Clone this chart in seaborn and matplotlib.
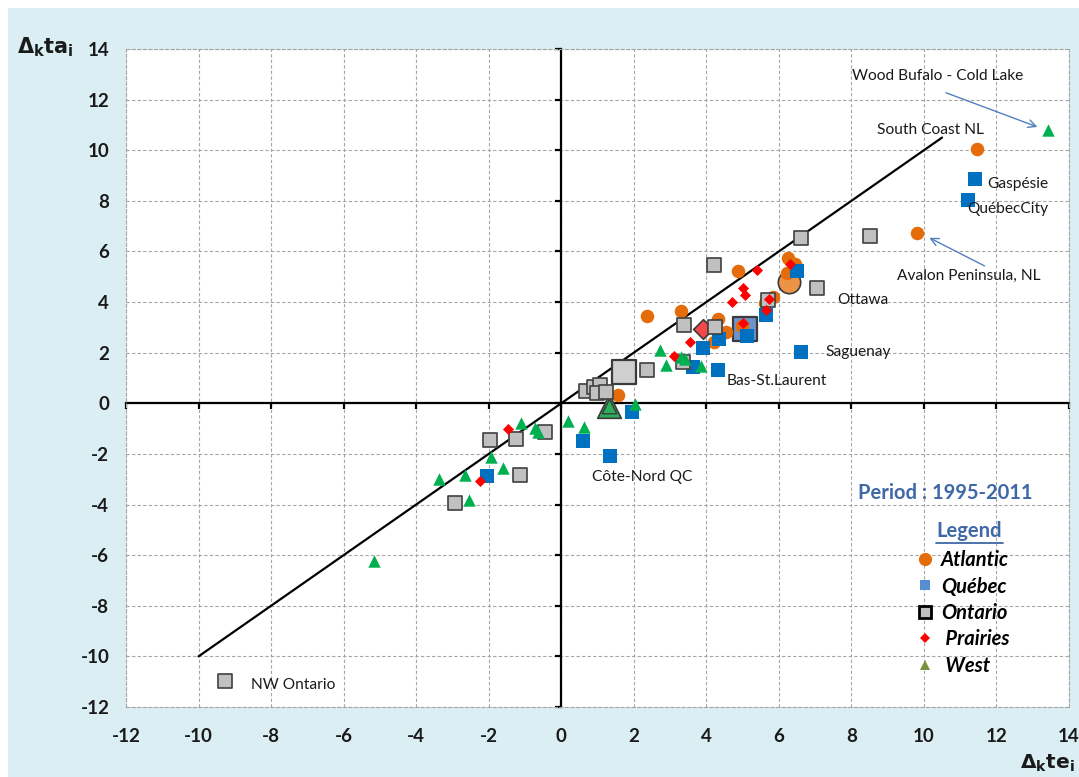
import matplotlib
matplotlib.use("Agg")
import matplotlib.pyplot as plt
from matplotlib.patches import Rectangle
from matplotlib.lines import Line2D
import seaborn as sns

# ---- data: change in employment (x) vs change in activity (y), by region ----
atl_x = [11.47, 9.82, 6.26, 6.44, 6.22, 5.85, 5.62, 4.88, 2.36, 3.30, 4.33, 4.55, 4.22, 4.98, 1.56]
atl_y = [10.05, 6.73, 5.74, 5.51, 5.15, 4.22, 3.97, 5.21, 3.45, 3.63, 3.32, 2.81, 2.42, 3.05, 0.33]
atl_avg = [6.29, 4.81]

que_x = [11.42, 11.21, 6.61, 6.49, 5.64, 5.13, 4.35, 3.92, 3.62, 4.32, 1.95, 0.59, 1.34, -2.05]
que_y = [8.86, 8.04, 2.02, 5.21, 3.47, 2.64, 2.53, 2.20, 1.42, 1.32, -0.33, -1.49, -2.08, -2.87]
que_avg = [5.07, 2.94]

ont_x = [-9.26, 6.61, 8.50, 7.06, 4.20, 5.71, 4.24, 3.39, 2.36, 3.35, 0.67, 0.90, 1.08, 0.99, 1.24,
         -0.45, -1.26, -1.96, -1.14, -2.93]
ont_y = [-10.99, 6.53, 6.62, 4.55, 5.47, 4.09, 3.01, 3.10, 1.32, 1.65, 0.50, 0.63, 0.72, 0.40, 0.46,
         -1.15, -1.42, -1.45, -2.84, -3.93]
ont_avg = [1.72, 1.25]

pra_x = [5.39, 6.30, 5.02, 5.07, 4.70, 5.73, 5.64, 5.02, 3.54, 3.10, -1.47, -2.24]
pra_y = [5.25, 5.51, 4.55, 4.29, 4.00, 4.11, 3.69, 3.19, 2.41, 1.85, -1.03, -3.06]
pra_avg = [3.92, 2.93]

wst_x = [13.43, 2.71, 2.90, 3.30, 3.42, 3.85, 2.04, 0.18, 0.62, -1.12, -0.73, -0.64, -1.94, -1.60,
         -2.65, -3.38, -2.54, -5.15]
wst_y = [10.78, 2.11, 1.52, 1.82, 1.74, 1.48, -0.03, -0.69, -0.92, -0.79, -0.96, -1.15, -2.11, -2.57,
         -2.84, -3.00, -3.83, -6.24]
wst_avg = [1.31, -0.10]

diag = [-10.0, 10.5]

ticks = list(range(-12, 15, 2))

# point labels: (text, x, y)
point_labels = [
    ("Wood Bufalo - Cold Lake", 8.02, 12.95),
    ("South Coast NL", 8.70, 10.81),
    ("Gaspésie", 11.75, 8.68),
    ("QuébecCity", 11.20, 7.69),
    ("Avalon Peninsula, NL", 9.25, 5.03),
    ("Ottawa", 7.62, 4.09),
    ("Saguenay", 7.29, 2.03),
    ("Bas-St.Laurent", 4.57, 0.88),
    ("Côte-Nord QC", 0.86, -2.91),
    ("NW Ontario", -8.54, -11.15),
]
# arrows: (tail x, tail y, head x, head y)
arrows = [
    (10.61, 12.27, 13.13, 10.92),
    (11.67, 5.43, 10.15, 6.54),
]

legend_names = ["Atlantic", "Québec", "Ontario", " Prairies", " West"]

# ---- styling ----
sns.set_theme(style="white")
plt.rcParams["font.family"] = ["Lato", "DejaVu Sans"]
plt.rcParams["mathtext.fontset"] = "dejavusans"
plt.rcParams["axes.unicode_minus"] = False

W, H = 1079, 777
fig = plt.figure(figsize=(W / 100, H / 100), dpi=100)
fig.patch.set_facecolor("white")
fig.add_artist(Rectangle((8 / W, 0), 1 - 8 / W, 1 - 8 / H, transform=fig.transFigure,
                         facecolor="#DAEEF3", edgecolor="none", zorder=-10))

rect = [126 / W, 70 / H, 943 / W, 658 / H]
grid_col = "#A6A6A6"
dash = (0, (3, 2))

# background axes: white plot area, dashed grid, axes crossing at zero
axb = fig.add_axes(rect)
axb.set_facecolor("white")
axb.set_xlim(-12, 14)
axb.set_ylim(-12, 14)
axb.set_xticks(ticks)
axb.set_yticks(ticks)
axb.grid(True, color=grid_col, linestyle=dash, linewidth=0.8)
axb.set_axisbelow(True)
for s in ["top", "right"]:
    axb.spines[s].set_visible(False)
axb.spines["left"].set_position(("data", 0))
axb.spines["bottom"].set_position(("data", 0))
for s in ["left", "bottom"]:
    axb.spines[s].set_color("black")
    axb.spines[s].set_linewidth(1.6)
axb.tick_params(direction="out", length=4.5, width=1.6, color="black",
                left=True, bottom=True, labelleft=False, labelbottom=False)

# foreground axes: data, dashed frame, tick labels on the edges
ax = fig.add_axes(rect)
ax.set_facecolor("none")

sns.lineplot(x=diag, y=diag, color="black", linewidth=1.6, ax=ax, zorder=1)

edge = "#3A3A3A"
# regional averages (large markers)
sns.scatterplot(x=[atl_avg[0]], y=[atl_avg[1]], marker="o", s=260, color="#EC9445",
                edgecolor=edge, linewidth=1.2, ax=ax, zorder=3)
sns.scatterplot(x=[que_avg[0]], y=[que_avg[1]], marker="s", s=300, color="#6F93C9",
                edgecolor=edge, linewidth=1.6, ax=ax, zorder=3)
sns.scatterplot(x=[ont_avg[0]], y=[ont_avg[1]], marker="s", s=300, color="#CFCFCF",
                edgecolor=edge, linewidth=1.6, ax=ax, zorder=3)
sns.scatterplot(x=[pra_avg[0]], y=[pra_avg[1]], marker="D", s=100, color="#F2474A",
                edgecolor=edge, linewidth=1.2, ax=ax, zorder=3)
sns.scatterplot(x=[wst_avg[0]], y=[wst_avg[1]], marker="^", s=290, color="#2EAE5A",
                edgecolor=edge, linewidth=1.2, ax=ax, zorder=3)
sns.scatterplot(x=[wst_avg[0]], y=[wst_avg[1]], marker="^", s=110, color="#2EAE5A",
                edgecolor=edge, linewidth=1.0, ax=ax, zorder=3)

# individual regions
sns.scatterplot(x=atl_x, y=atl_y, marker="o", s=95, color="#E46C0A", linewidth=0, ax=ax, zorder=4)
sns.scatterplot(x=que_x, y=que_y, marker="s", s=90, color="#0070C0", linewidth=0, ax=ax, zorder=4)
sns.scatterplot(x=ont_x, y=ont_y, marker="s", s=90, color="#C0C0C0", edgecolor="#404040",
                linewidth=1.2, ax=ax, zorder=4)
sns.scatterplot(x=pra_x, y=pra_y, marker="D", s=32, color="#FF0000", linewidth=0, ax=ax, zorder=5)
sns.scatterplot(x=wst_x, y=wst_y, marker="^", s=80, color="#00B050", linewidth=0, ax=ax, zorder=5)

ax.set_xlim(-12, 14)
ax.set_ylim(-12, 14)
ax.set_xticks(ticks)
ax.set_yticks(ticks)
ax.set_xlabel("")
ax.set_ylabel("")
ax.grid(False)
for s in ax.spines.values():
    s.set_visible(True)
    s.set_color(grid_col)
    s.set_linestyle(dash)
    s.set_linewidth(0.8)
ax.tick_params(length=0, labelsize=13.5, labelcolor="#1A1A1A")
ax.tick_params(axis="x", pad=15)
ax.tick_params(axis="y", pad=12)
for lab in ax.get_xticklabels() + ax.get_yticklabels():
    lab.set_fontweight("bold")

# point labels and arrows
for txt, tx, ty in point_labels:
    ax.text(tx, ty, txt, fontsize=11.2, color="#1A1A1A", ha="left", va="center", zorder=6)
for x0, y0, x1, y1 in arrows:
    ax.annotate("", xy=(x1, y1), xytext=(x0, y0),
                arrowprops=dict(arrowstyle="->", color="#4F81BD", lw=1.0,
                                mutation_scale=14, shrinkA=0, shrinkB=0), zorder=6)

# period note and legend
title_col = "#3F68A6"
ax.text(8.17, -3.53, "Period : 1995-2011", fontsize=14.5, fontweight="bold", color=title_col,
        ha="left", va="center")
ax.text(10.34, -5.05, "Legend", fontsize=14.5, fontweight="bold", color=title_col,
        ha="left", va="center")
ax.plot([10.34, 12.18], [-5.5, -5.5], color=title_col, linewidth=1.3, zorder=6)

handles = [
    Line2D([], [], linestyle="none", marker="o", markersize=9.5, color="#E46C0A", markeredgewidth=0),
    Line2D([], [], linestyle="none", marker="s", markersize=6.5, color="#558ED5", markeredgewidth=0),
    Line2D([], [], linestyle="none", marker="s", markersize=8.5, markerfacecolor="#C0C0C0",
           markeredgecolor="black", markeredgewidth=2.0),
    Line2D([], [], linestyle="none", marker="D", markersize=5, color="#FF0000", markeredgewidth=0),
    Line2D([], [], linestyle="none", marker="^", markersize=7.5, color="#77933C", markeredgewidth=0),
]
leg = ax.legend(handles, legend_names, loc="upper left",
                bbox_to_anchor=((905 - 126) / 943, (707 - 540) / 658),
                frameon=False, handlelength=1.0, handletextpad=0.3, borderpad=0,
                labelspacing=0.32, prop=dict(size=14.5, weight="bold", style="italic"))
for t in leg.get_texts():
    t.set_color("black")

# axis titles
fig.text(45 / W, 1 - 47 / H, r"$\mathbf{\Delta_k ta_i}$", fontsize=15, ha="center", va="center",
         color="#1A1A1A")
fig.text(1047 / W, 1 - 763 / H, r"$\mathbf{\Delta_k te_i}$", fontsize=14.5, ha="center", va="center",
         color="#1A1A1A")

fig.savefig("out.png", dpi=100, facecolor=fig.get_facecolor())
